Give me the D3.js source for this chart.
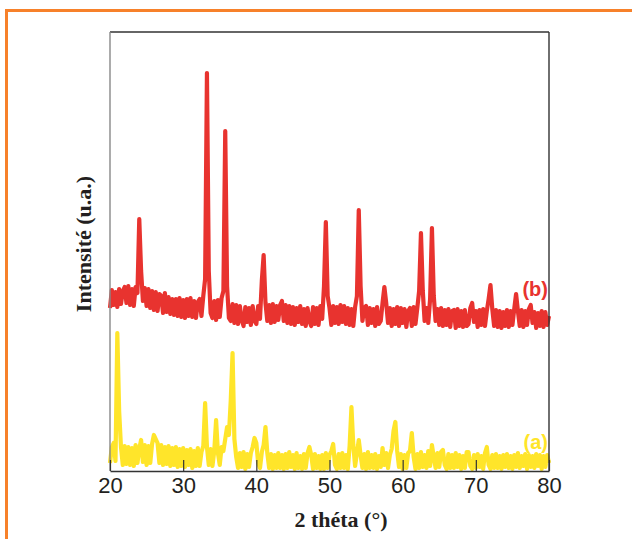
<!DOCTYPE html>
<html>
<head>
<meta charset="utf-8">
<script src="https://cdn.jsdelivr.net/npm/d3@7"></script>
<style>
  body { margin: 0; background: #fff; }
  svg { display: block; }
</style>
</head>
<body>
<div id="chart"></div>
<script>
// Our canvas
const width = 632,
  height = 539
const margin = { top: 32, right: 83, bottom: 68, left: 110 }

// x grid: 2 theta from 20 to 80, every 0.25 degree
const thetaStart = 20,
  thetaStep = 0.25

// tick labels
const xTicks = [20, 30, 40, 50, 60, 70, 80]

// series (a), yellow, intensity in a.u. (one row = 4 degrees)
const seriesA = [
  8, 24, 28, 10, 138, 60, 24, 6, 25, 7, 24, 6, 23, 5, 26, 8,
  22, 31, 9, 26, 6, 25, 8, 27, 36, 32, 28, 8, 26, 6, 24, 7,
  25, 5, 23, 6, 24, 4, 22, 5, 23, 4, 21, 6, 22, 3, 20, 5,
  23, 5, 19, 25, 68, 24, 6, 22, 5, 20, 51, 18, 6, 24, 20, 32,
  44, 36, 70, 118, 32, 14, 3, 18, 4, 19, 2, 17, 4, 18, 24, 33,
  28, 8, 3, 19, 26, 44, 18, 3, 17, 2, 16, 3, 18, 3, 16, 2,
  17, 3, 19, 4, 16, 2, 18, 3, 15, 2, 17, 3, 18, 24, 16, 2,
  17, 3, 15, 2, 16, 2, 18, 3, 16, 20, 27, 6, 2, 17, 3, 18,
  3, 16, 2, 25, 64, 26, 5, 18, 31, 16, 3, 17, 2, 19, 3, 16,
  3, 17, 2, 15, 4, 23, 6, 18, 3, 16, 22, 40, 49, 20, 4, 17,
  2, 16, 3, 18, 20, 38, 14, 2, 17, 3, 19, 4, 16, 3, 20, 5,
  26, 14, 3, 18, 4, 19, 21, 6, 2, 17, 3, 16, 3, 18, 4, 16,
  2, 15, 3, 19, 19, 5, 2, 16, 3, 17, 4, 15, 2, 18, 24, 6,
  2, 16, 3, 17, 3, 15, 2, 16, 4, 17, 3, 15, 2, 16, 4, 18,
  3, 15, 5, 17, 2, 16, 4, 15, 3, 17, 5, 16, 2, 15, 4, 16,
  8
]

// series (b), red, intensity in a.u.
const seriesB = [
  163, 181, 166, 179, 164, 182, 167, 180, 184, 168, 185, 166, 182, 165, 184, 178,
  252, 200, 170, 183, 165, 182, 163, 180, 161, 179, 160, 177, 175, 158, 178, 159,
  174, 157, 172, 156, 172, 155, 173, 154, 171, 153, 172, 155, 173, 154, 170, 153,
  169, 172, 155, 175, 192, 398, 200, 158, 153, 170, 151, 171, 154, 173, 180, 340,
  185, 153, 150, 167, 148, 166, 147, 165, 151, 145, 164, 149, 163, 146, 165, 150,
  147, 165, 152, 190, 216, 168, 150, 166, 148, 167, 149, 165, 151, 166, 170, 150,
  166, 148, 165, 147, 164, 146, 163, 149, 165, 147, 162, 145, 163, 150, 145, 164,
  147, 163, 146, 165, 152, 185, 249, 175, 163, 146, 165, 148, 164, 147, 166, 149,
  165, 147, 163, 146, 162, 145, 164, 175, 261, 185, 150, 163, 165, 146, 163, 148,
  162, 145, 164, 147, 150, 168, 184, 168, 148, 163, 145, 162, 147, 164, 145, 163,
  148, 162, 144, 160, 163, 145, 164, 147, 163, 180, 238, 180, 150, 163, 148, 172,
  243, 175, 150, 162, 146, 163, 145, 161, 146, 162, 144, 160, 161, 143, 162, 145,
  160, 144, 161, 145, 147, 163, 168, 149, 160, 144, 161, 146, 162, 145, 160, 172,
  186, 162, 145, 161, 144, 160, 143, 159, 145, 161, 144, 160, 146, 162, 177, 160,
  145, 161, 144, 160, 146, 162, 166, 148, 159, 143, 158, 145, 160, 144, 159, 146,
  155
]

const labelA = '(a)',
  labelB = '(b)'

// Drawing area
let svg = d3.select('#chart')
  .append('svg')
  .attr('width', width)
  .attr('height', height)

// orange frame
svg.append('line')
  .attr('x1', 5).attr('x2', width).attr('y1', 10.5).attr('y2', 10.5)
  .attr('stroke', '#f7812a').attr('stroke-width', 3)
svg.append('line')
  .attr('x1', 6.5).attr('x2', 6.5).attr('y1', 9).attr('y2', height)
  .attr('stroke', '#f7812a').attr('stroke-width', 3)

let xScale = d3.scaleLinear()
  .domain([20, 80])
  .range([margin.left, width - margin.right])

let yScale = d3.scaleLinear()
  .domain([0, 439])
  .range([height - margin.bottom, margin.top])

let line = d3.line()
  .x((d, i) => xScale(thetaStart + i * thetaStep))
  .y(d => yScale(d))

let plot = svg.append('g')

plot.append('path')
  .datum(seriesB)
  .attr('d', line)
  .attr('fill', 'none')
  .attr('stroke', '#e8332f')
  .attr('stroke-width', 4.2)
  .attr('stroke-linejoin', 'round')

plot.append('path')
  .datum(seriesA)
  .attr('d', line)
  .attr('fill', 'none')
  .attr('stroke', '#ffe52a')
  .attr('stroke-width', 4.2)
  .attr('stroke-linejoin', 'round')

// frame of the plot
let x0 = xScale(20), x1 = xScale(80)
let y0 = yScale(0), y1 = yScale(439)
svg.append('line')
  .attr('x1', x0).attr('x2', x1).attr('y1', y1).attr('y2', y1)
  .attr('stroke', '#333').attr('stroke-width', 1.4)
svg.append('line')
  .attr('x1', x1).attr('x2', x1).attr('y1', y1).attr('y2', y0)
  .attr('stroke', '#333').attr('stroke-width', 1.4)
svg.append('line')
  .attr('x1', x0).attr('x2', x0).attr('y1', y1).attr('y2', y0)
  .attr('stroke', '#888').attr('stroke-width', 1.4)

// x axis, ticks pointing inward
let xAxis = d3.axisBottom(xScale)
  .tickValues(xTicks)
  .tickSizeInner(-11)
  .tickSizeOuter(0)
  .tickPadding(6)

let gx = svg.append('g')
  .attr('transform', `translate(0,${y0})`)
  .call(xAxis)
gx.select('.domain').attr('stroke', '#333').attr('stroke-width', 1.4)
gx.selectAll('.tick line').attr('stroke', '#333').attr('stroke-width', 1.2)
gx.selectAll('.tick text')
  .attr('fill', '#231f20')
  .style('font-family', '"Liberation Sans", Arial, sans-serif')
  .style('font-size', '22px')

// axis titles
svg.append('text')
  .attr('x', 341)
  .attr('y', 527)
  .attr('text-anchor', 'middle')
  .attr('fill', '#231f20')
  .style('font-family', '"Liberation Serif", "Times New Roman", serif')
  .style('font-weight', 'bold')
  .style('font-size', '22px')
  .text('2 théta (°)')

svg.append('text')
  .attr('transform', 'translate(91,244) rotate(-90)')
  .attr('text-anchor', 'middle')
  .attr('fill', '#231f20')
  .style('font-family', '"Liberation Serif", "Times New Roman", serif')
  .style('font-weight', 'bold')
  .style('font-size', '22px')
  .text('Intensité (u.a.)')

// series labels
svg.append('text')
  .attr('x', 548)
  .attr('y', yScale(175))
  .attr('text-anchor', 'end')
  .attr('fill', '#e8332f')
  .style('font-family', '"Liberation Sans", Arial, sans-serif')
  .style('font-weight', 'bold')
  .style('font-size', '20px')
  .text(labelB)

svg.append('text')
  .attr('x', 548)
  .attr('y', yScale(22))
  .attr('text-anchor', 'end')
  .attr('fill', '#ffe52a')
  .style('font-family', '"Liberation Sans", Arial, sans-serif')
  .style('font-weight', 'bold')
  .style('font-size', '20px')
  .text(labelA)
</script>
</body>
</html>
